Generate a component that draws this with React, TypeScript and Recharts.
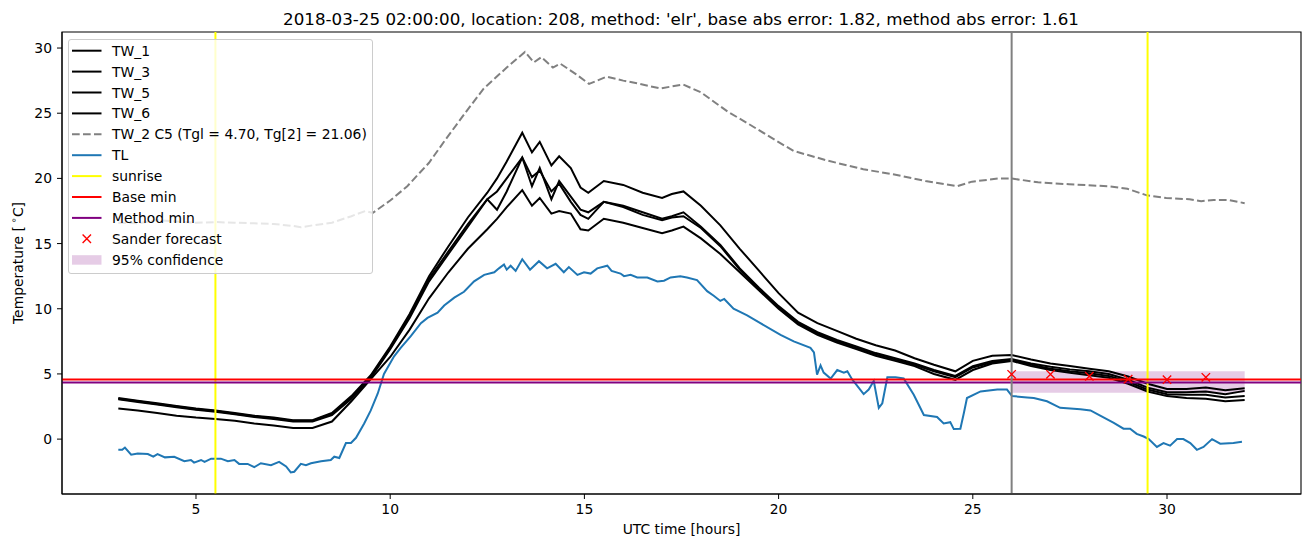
import { ComposedChart, Line, XAxis, YAxis, ReferenceLine, ReferenceArea, Legend } from 'recharts';

const FONT = '"DejaVu Sans", sans-serif';

// time grid for the four TW sensors (hours UTC)
const hours = [
  3, 3.5, 4, 4.5, 5, 5.5, 6, 6.5, 7, 7.5, 8, 8.5, 9, 9.5, 10, 10.5, 11, 11.5, 12, 12.5, 12.75, 13, 13.4, 13.65,
  13.85, 14.15, 14.35, 14.65, 14.9, 15.1, 15.5, 16, 16.5, 17, 17.25, 17.55, 18, 18.5, 19, 19.5, 20, 20.5, 21,
  21.5, 22, 22.5, 23, 23.5, 24, 24.55, 25, 25.5, 26, 26.5, 27, 27.5, 28, 28.5, 29, 29.5, 30, 30.5, 31, 31.5, 32,
];
const tw1 = [
  3.15, 2.95, 2.75, 2.55, 2.35, 2.2, 2.0, 1.8, 1.65, 1.45, 1.45, 2.0, 3.3, 4.9, 7.1, 9.6, 12.5, 14.8, 17.0, 18.9,
  20.0, 21.3, 23.5, 22.0, 22.8, 21.0, 21.7, 20.8, 19.3, 18.9, 19.8, 19.5, 18.9, 18.5, 18.8, 19.0, 17.9, 16.4, 14.6,
  12.9, 11.2, 9.7, 8.9, 8.3, 7.7, 7.2, 6.8, 6.2, 5.7, 5.2, 6.0, 6.4, 6.45, 6.1, 5.8, 5.6, 5.4, 5.2, 4.8, 4.25,
  3.85, 3.85, 3.95, 3.75, 3.9,
];
const tw3 = [
  3.1, 2.9, 2.7, 2.5, 2.3, 2.15, 1.95, 1.75, 1.6, 1.4, 1.4, 1.95, 3.2, 4.8, 7.0, 9.4, 12.3, 14.4, 16.5, 18.4,
  19.0, 20.0, 21.6, 19.4, 20.8, 18.4, 19.8, 18.6, 17.6, 17.4, 18.2, 17.9, 17.4, 16.9, 17.1, 17.4, 16.3, 14.9, 13.1,
  11.6, 10.2, 9.0, 8.2, 7.6, 7.1, 6.6, 6.2, 5.8, 5.3, 4.85, 5.6, 6.0, 6.15, 5.8, 5.55, 5.35, 5.2, 5.0, 4.55, 3.95,
  3.6, 3.6, 3.65, 3.45, 3.7,
];
const tw5 = [
  3.05, 2.85, 2.65, 2.45, 2.25, 2.1, 1.9, 1.7, 1.55, 1.35, 1.35, 1.85, 3.1, 4.7, 6.9, 9.3, 12.1, 14.2, 16.3, 18.4,
  17.6, 19.0, 21.6, 20.1, 20.6, 19.0, 19.6, 18.2, 17.2, 16.9, 18.2, 17.8, 17.2, 16.8, 17.0, 17.1, 16.2, 14.8, 13.0,
  11.5, 10.1, 8.9, 8.1, 7.5, 7.0, 6.5, 6.1, 5.7, 5.2, 4.75, 5.5, 5.9, 6.05, 5.7, 5.4, 5.2, 5.05, 4.85, 4.4, 3.8,
  3.45, 3.4, 3.4, 3.2, 3.3,
];
const tw6 = [
  2.35, 2.2, 2.0, 1.8, 1.65, 1.55, 1.4, 1.2, 1.05, 0.85, 0.85, 1.35, 2.9, 4.6, 6.3, 8.4, 10.8, 12.8, 14.6, 16.1,
  16.9, 17.8, 19.1, 17.9, 18.5, 17.3, 17.5, 17.3, 16.1, 16.0, 16.9, 16.6, 16.2, 15.8, 16.0, 16.3, 15.4, 14.2, 12.8,
  11.4, 10.0, 8.8, 8.0, 7.4, 6.9, 6.4, 6.0, 5.6, 5.0, 4.55, 5.3, 5.8, 6.0, 5.6, 5.3, 5.1, 4.9, 4.7, 4.25, 3.65,
  3.3, 3.15, 3.1, 2.9, 3.0,
];

const tw2Hours = [
  3, 3.5, 4, 4.5, 5, 5.5, 6, 6.5, 7, 7.5, 7.7, 8, 8.5, 9, 9.36, 9.55, 10, 10.44, 11, 11.43, 12, 12.41, 13, 13.47,
  13.7, 13.89, 14.19, 14.38, 14.78, 15.12, 15.57, 16, 16.35, 16.95, 17.54, 18, 18.7, 19.19, 19.99, 20.39, 21.28,
  22.18, 22.98, 23.78, 24.59, 24.98, 25.68, 25.98, 26.68, 27.48, 28.48, 28.98, 29.48, 29.98, 30.58, 30.88, 31.2,
  31.57, 32,
];
const tw2 = [
  16.6, 16.55, 16.8, 16.7, 16.6, 16.65, 16.6, 16.55, 16.5, 16.35, 16.25, 16.4, 16.6, 17.1, 17.5, 17.35, 18.3, 19.4,
  21.2, 23.0, 25.3, 26.9, 28.5, 29.7, 28.9, 29.3, 28.5, 28.8, 28.0, 27.25, 27.8, 27.5, 27.3, 26.9, 27.2, 26.6,
  25.1, 24.25, 22.8, 22.1, 21.35, 20.7, 20.3, 19.8, 19.4, 19.75, 20.0, 20.0, 19.7, 19.55, 19.4, 19.2, 18.7, 18.5,
  18.4, 18.25, 18.35, 18.35, 18.1,
];

const tlHours = [
  3, 3.1, 3.17, 3.33, 3.5, 3.76, 3.9, 4.01, 4.2, 4.44, 4.7, 4.87, 4.95, 5.13, 5.22, 5.39, 5.64, 5.82, 5.99, 6.11,
  6.33, 6.5, 6.67, 6.93, 7.14, 7.32, 7.44, 7.53, 7.7, 7.83, 7.96, 8.22, 8.47, 8.56, 8.69, 8.86, 8.99, 9.12, 9.33,
  9.5, 9.68, 9.84, 10.1, 10.27, 10.53, 10.79, 10.96, 11.22, 11.39, 11.65, 11.9, 12.16, 12.42, 12.68, 12.8, 12.93,
  13.0, 13.1, 13.23, 13.4, 13.6, 13.83, 14.04, 14.26, 14.47, 14.6, 14.82, 14.99, 15.16, 15.33, 15.59, 15.7, 15.93,
  16.02, 16.19, 16.36, 16.62, 16.88, 17.05, 17.22, 17.47, 17.64, 17.9, 18.16, 18.33, 18.5, 18.6, 18.84, 19.19,
  19.53, 20.05, 20.39, 20.82, 20.91, 20.99, 21.08, 21.16, 21.34, 21.51, 21.68, 21.77, 21.89, 22.19, 22.32, 22.45,
  22.58, 22.67, 22.8, 23.01, 23.22, 23.48, 23.74, 24.08, 24.25, 24.42, 24.51, 24.68, 24.77, 24.85, 25.2, 25.63,
  25.88, 26.01, 26.4, 26.57, 26.91, 27.25, 27.77, 28.03, 28.28, 28.63, 28.88, 29.05, 29.22, 29.4, 29.53, 29.74,
  29.91, 30.08, 30.26, 30.42, 30.6, 30.77, 30.94, 31.16, 31.37, 31.71, 31.93,
];
const tl = [
  -0.82, -0.82, -0.65, -1.2, -1.1, -1.15, -1.35, -1.15, -1.4, -1.35, -1.7, -1.6, -1.8, -1.6, -1.75, -1.5, -1.5,
  -1.7, -1.6, -1.9, -1.9, -2.15, -1.85, -2.0, -1.75, -2.1, -2.55, -2.5, -1.9, -2.0, -1.85, -1.7, -1.6, -1.35,
  -1.45, -0.3, -0.3, 0.1, 1.2, 2.2, 3.5, 5.0, 6.35, 7.0, 7.9, 8.9, 9.3, 9.7, 10.25, 10.85, 11.3, 12.1, 12.6, 12.8,
  13.1, 13.4, 13.0, 13.3, 12.9, 13.8, 13.0, 13.65, 13.1, 13.45, 12.8, 13.2, 12.6, 12.8, 12.7, 13.1, 13.3, 12.9,
  12.7, 12.5, 12.6, 12.4, 12.4, 12.1, 12.15, 12.4, 12.5, 12.4, 12.2, 11.35, 11.0, 10.6, 10.75, 10.0, 9.5, 8.9, 8.0,
  7.5, 7.0, 6.65, 4.95, 5.65, 5.1, 4.65, 5.3, 5.1, 5.2, 4.6, 3.45, 3.8, 4.45, 2.4, 2.75, 4.75, 4.75, 4.65, 3.4,
  1.85, 1.7, 1.2, 1.3, 0.77, 0.8, 2.0, 3.15, 3.66, 3.8, 3.8, 3.3, 3.2, 3.15, 2.9, 2.4, 2.3, 2.2, 1.8, 1.25, 0.8,
  0.8, 0.4, 0.2, 0.0, -0.6, -0.3, -0.5, 0.0, 0.0, -0.3, -0.82, -0.6, 0.0, -0.35, -0.3, -0.2,
];

const sanderHours = [26, 27, 28, 29, 30, 31];
const sanderValues = [4.97, 4.97, 4.82, 4.6, 4.56, 4.74];

const sunriseHours = [5.5, 29.5];
const forecastHour = 26;
const baseMin = 4.58;
const methodMin = 4.35;
const confLow = 3.56;
const confHigh = 5.2;
const confEnd = 32;

const xTicks = [5, 10, 15, 20, 25, 30];
const yTicks = [0, 5, 10, 15, 20, 25, 30];
const X_MIN = 1.55;
const X_MAX = 33.45;
const Y_MIN = -4.21;
const Y_MAX = 31.23;

const TITLE = "2018-03-25 02:00:00, location: 208, method: 'elr', base abs error: 1.82, method abs error: 1.61";

const pts = (xs: number[], ys: number[]) => xs.map((t, i) => ({ t, v: ys[i] }));

const twSeries = [
  { name: 'TW_1', data: pts(hours, tw1) },
  { name: 'TW_3', data: pts(hours, tw3) },
  { name: 'TW_5', data: pts(hours, tw5) },
  { name: 'TW_6', data: pts(hours, tw6) },
];

const legendItems: { label: string; kind: 'line' | 'dash' | 'x' | 'patch'; color: string }[] = [
  { label: 'TW_1', kind: 'line', color: '#000000' },
  { label: 'TW_3', kind: 'line', color: '#000000' },
  { label: 'TW_5', kind: 'line', color: '#000000' },
  { label: 'TW_6', kind: 'line', color: '#000000' },
  { label: 'TW_2 C5 (Tgl = 4.70, Tg[2] = 21.06)', kind: 'dash', color: '#808080' },
  { label: 'TL', kind: 'line', color: '#1f77b4' },
  { label: 'sunrise', kind: 'line', color: '#ffff00' },
  { label: 'Base min', kind: 'line', color: '#ff0000' },
  { label: 'Method min', kind: 'line', color: '#800080' },
  { label: 'Sander forecast', kind: 'x', color: '#ff0000' },
  { label: '95% confidence', kind: 'patch', color: '#800080' },
];

function XMark(props: any) {
  const { cx, cy } = props;
  if (cx == null || cy == null) return null;
  const r = 4.2;
  return (
    <path
      d={`M${cx - r},${cy - r}L${cx + r},${cy + r}M${cx - r},${cy + r}L${cx + r},${cy - r}`}
      stroke="#ff0000"
      strokeWidth={1.4}
      fill="none"
    />
  );
}

function LegendBox() {
  return (
    <div
      style={{
        width: 305,
        height: 235,
        boxSizing: 'border-box',
        background: 'rgba(255,255,255,0.8)',
        border: '1px solid #cccccc',
        borderRadius: 3,
        position: 'relative',
      }}
    >
      <svg width={305} height={235} style={{ position: 'absolute', left: -1, top: -1 }}>
        {legendItems.map((it, i) => {
          const y = 11.7 + i * 20.9;
          let handle;
          if (it.kind === 'line' || it.kind === 'dash') {
            handle = (
              <line
                x1={4}
                x2={33.5}
                y1={y}
                y2={y}
                stroke={it.color}
                strokeWidth={2}
                strokeDasharray={it.kind === 'dash' ? '7.7 3.3' : undefined}
              />
            );
          } else if (it.kind === 'x') {
            handle = <XMark cx={18.8} cy={y} />;
          } else {
            handle = <rect x={4} y={y - 4.5} width={29.5} height={9.5} fill={it.color} fillOpacity={0.2} />;
          }
          return (
            <g key={it.label}>
              {handle}
              <text x={44} y={y + 5} fontSize={13.9} fontFamily={FONT} fill="#000">
                {it.label}
              </text>
            </g>
          );
        })}
      </svg>
    </div>
  );
}

const tickStyle = { fill: '#000', fontSize: 13.9, fontFamily: FONT };

export default function App() {
  return (
    <div style={{ position: 'absolute', left: 0, top: 0, width: 1310, height: 547, background: '#fff' }}>
      <ComposedChart width={1310} height={547} margin={{ top: 32, right: 9, bottom: 0, left: 0 }}>
        <text x={681} y={24.5} textAnchor="middle" fontSize={16.7} fontFamily={FONT} fill="#000">
          {TITLE}
        </text>
        <XAxis
          dataKey="t"
          type="number"
          domain={[X_MIN, X_MAX]}
          ticks={xTicks}
          allowDataOverflow
          height={53}
          tick={tickStyle}
          tickSize={5}
          tickMargin={5}
          stroke="#000"
          label={(p: any) => {
            const vb = p.viewBox;
            return (
              <text x={vb.x + vb.width / 2} y={vb.y + 40} textAnchor="middle" fontSize={13.9} fontFamily={FONT} fill="#000">
                UTC time [hours]
              </text>
            );
          }}
        />
        <YAxis
          type="number"
          domain={[Y_MIN, Y_MAX]}
          ticks={yTicks}
          allowDataOverflow
          width={62}
          tick={tickStyle}
          tickSize={5}
          tickMargin={5}
          stroke="#000"
          label={(p: any) => {
            const vb = p.viewBox;
            const cx = 18;
            const cy = vb.y + vb.height / 2;
            return (
              <text
                x={cx}
                y={cy}
                transform={`rotate(-90, ${cx}, ${cy})`}
                textAnchor="middle"
                dominantBaseline="central"
                fontSize={13.9}
                fontFamily={FONT}
                fill="#000"
              >
                Temperature [<tspan dx={3} fontSize={9.7} dy={-5}>∘</tspan>
                <tspan dy={5}>C]</tspan>
              </text>
            );
          }}
        />
        <ReferenceArea x1={X_MIN} x2={X_MAX} y1={Y_MIN} y2={Y_MAX} fill="none" stroke="#000" strokeWidth={1.1} />
        {twSeries.map((s) => (
          <Line
            key={s.name}
            data={s.data}
            dataKey="v"
            name={s.name}
            type="linear"
            stroke="#000000"
            strokeWidth={2}
            dot={false}
            activeDot={false}
            isAnimationActive={false}
          />
        ))}
        <Line
          data={pts(tw2Hours, tw2)}
          dataKey="v"
          name="TW_2"
          type="linear"
          stroke="#808080"
          strokeWidth={2}
          strokeDasharray="7.7 3.3"
          dot={false}
          activeDot={false}
          isAnimationActive={false}
        />
        <Line
          data={pts(tlHours, tl)}
          dataKey="v"
          name="TL"
          type="linear"
          stroke="#1f77b4"
          strokeWidth={2}
          dot={false}
          activeDot={false}
          isAnimationActive={false}
        />
        {sunriseHours.map((h) => (
          <ReferenceLine key={h} x={h} stroke="#ffff00" strokeWidth={2} />
        ))}
        <ReferenceLine y={baseMin} stroke="#ff0000" strokeWidth={2} />
        <ReferenceLine y={methodMin} stroke="#800080" strokeWidth={2} />
        <ReferenceLine x={forecastHour} stroke="#808080" strokeWidth={2} />
        <Line
          data={pts(sanderHours, sanderValues)}
          dataKey="v"
          name="Sander forecast"
          stroke="none"
          dot={(p: any) => <XMark key={p.index} cx={p.cx} cy={p.cy} />}
          activeDot={false}
          isAnimationActive={false}
        />
        <ReferenceArea
          x1={forecastHour}
          x2={confEnd}
          y1={confLow}
          y2={confHigh}
          fill="#800080"
          fillOpacity={0.2}
          stroke="none"
        />
        <Legend
          layout="vertical"
          align="center"
          verticalAlign="middle"
          wrapperStyle={{ left: 68, top: 39, width: 305, height: 235 }}
          content={() => <LegendBox />}
        />
      </ComposedChart>
    </div>
  );
}
